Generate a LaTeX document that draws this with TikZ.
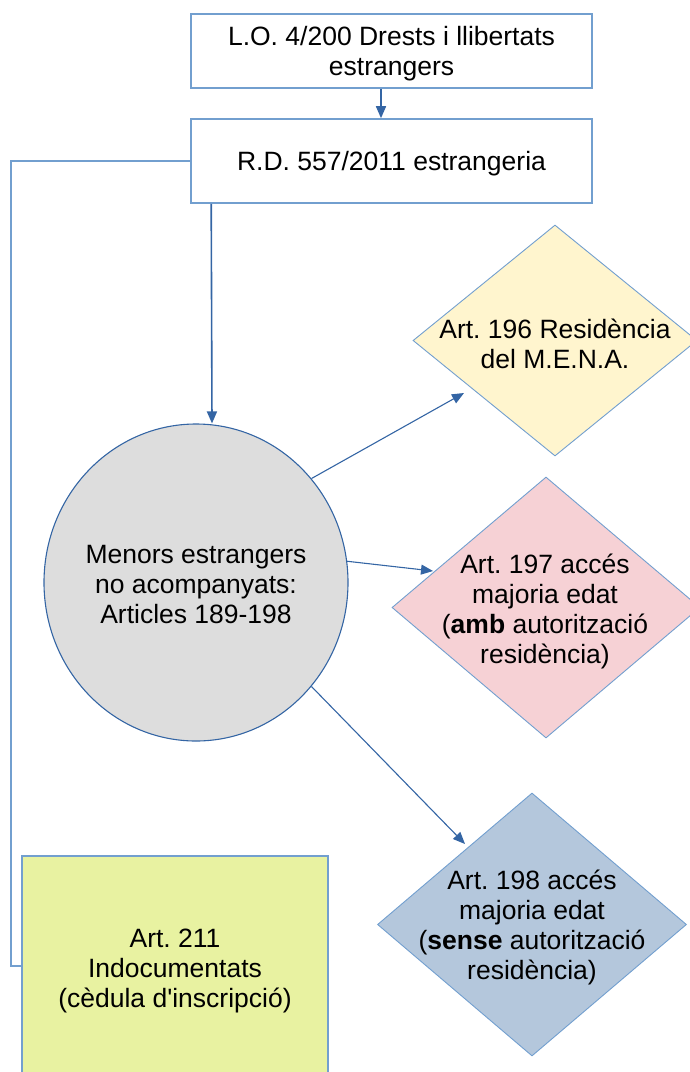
\documentclass[tikz,border=0pt]{standalone}
\usepackage{fontspec}
\setmainfont{Liberation Sans}
\usetikzlibrary{shapes.geometric,arrows.meta}
\definecolor{lineblue}{RGB}{52,101,164}
\definecolor{boxblue}{RGB}{114,159,207}
\definecolor{circfill}{RGB}{221,221,221}
\definecolor{yelfill}{RGB}{255,245,206}
\definecolor{pinkfill}{RGB}{246,209,213}
\definecolor{bluefill}{RGB}{180,199,220}
\definecolor{limefill}{RGB}{232,242,161}
\frenchspacing
\begin{document}
\begin{tikzpicture}[x=1pt,y=-1pt,
  txt/.style={align=center,font=\fontsize{26.5}{30}\selectfont,inner sep=0pt,text=black,yshift=-2.5pt},
  rbox/.style={rectangle,draw=boxblue,line width=1.6pt,fill=white,minimum width=401pt,inner sep=0pt},
  dia/.style={diamond,draw=boxblue,line width=0.9pt,inner sep=0pt},
  conn/.style={draw=lineblue,line width=1.1pt},
  arr/.style={conn,-{Triangle[length=12pt,width=10pt]}}]
\useasboundingbox (0,0) rectangle (690,1072);
\clip (0,0) rectangle (690,1072);

% boxes
\node[rbox,minimum height=74pt] (lo) at (391.5,51) {};
\node[txt] (lot) at (lo.center) {L.O. 4/200 Drests i llibertats\\estrangers};
\node[rbox,minimum height=84pt] (rd) at (391.5,161) {};
\node[txt] (rdt) at (rd.center) {R.D. 557/2011 estrangeria};

% circle
\node[ellipse,draw=lineblue,line width=1.1pt,fill=circfill,minimum width=304pt,minimum height=317pt,inner sep=0pt] (circ) at (196,582.5) {};
\node[txt] (circt) at (circ.center) {Menors estrangers\\no acompanyats:\\Articles 189-198};

% diamonds
\node[dia,fill=yelfill,minimum width=284pt,minimum height=231pt] (d1) at (555,340.5) {};
\node[txt] (d1t) at (555,341) {Art. 196 Residència\\del M.E.N.A.};
\node[dia,fill=pinkfill,minimum width=308pt,minimum height=261pt] (d2) at (546,607.5) {};
\node[txt] (d2t) at (545,609) {Art. 197 accés\\majoria edat\\(\textbf{amb} autorització\\residència)};
\node[dia,fill=bluefill,minimum width=309pt,minimum height=263pt] (d3) at (532,924.5) {};
\node[txt] (d3t) at (532,925) {Art. 198 accés\\majoria edat\\(\textbf{sense} autorització\\residència)};

% Art 211 box
\node[rectangle,draw=boxblue,line width=1.6pt,fill=limefill,minimum width=306pt,minimum height=220pt,inner sep=0pt] (art) at (175,966) {};
\node[txt] (artt) at (175,968) {Art. 211\\Indocumentats\\(cèdula d\textquotesingle inscripció)};

% connectors
\draw[arr,line width=1.6pt] ([xshift=-10.5pt]lo.south) -- ([xshift=-10.5pt]rd.north);
\draw[arr,line width=1.6pt] ([xshift=21pt]rd.south west) -- ([xshift=16pt]circ.north);
\draw[conn,line width=1.6pt,draw=boxblue] (rd.west) -- ++(-179,0) |- (art.west);

\coordinate (e1) at (464,393);
\coordinate (e2) at (433,571);
\coordinate (e3) at (465,844);
\draw[arr] (circ.42) -- (e1);
\draw[arr] (circ.8) -- (e2);
\draw[arr] (circ.-42) -- (e3);
\end{tikzpicture}
\end{document}
